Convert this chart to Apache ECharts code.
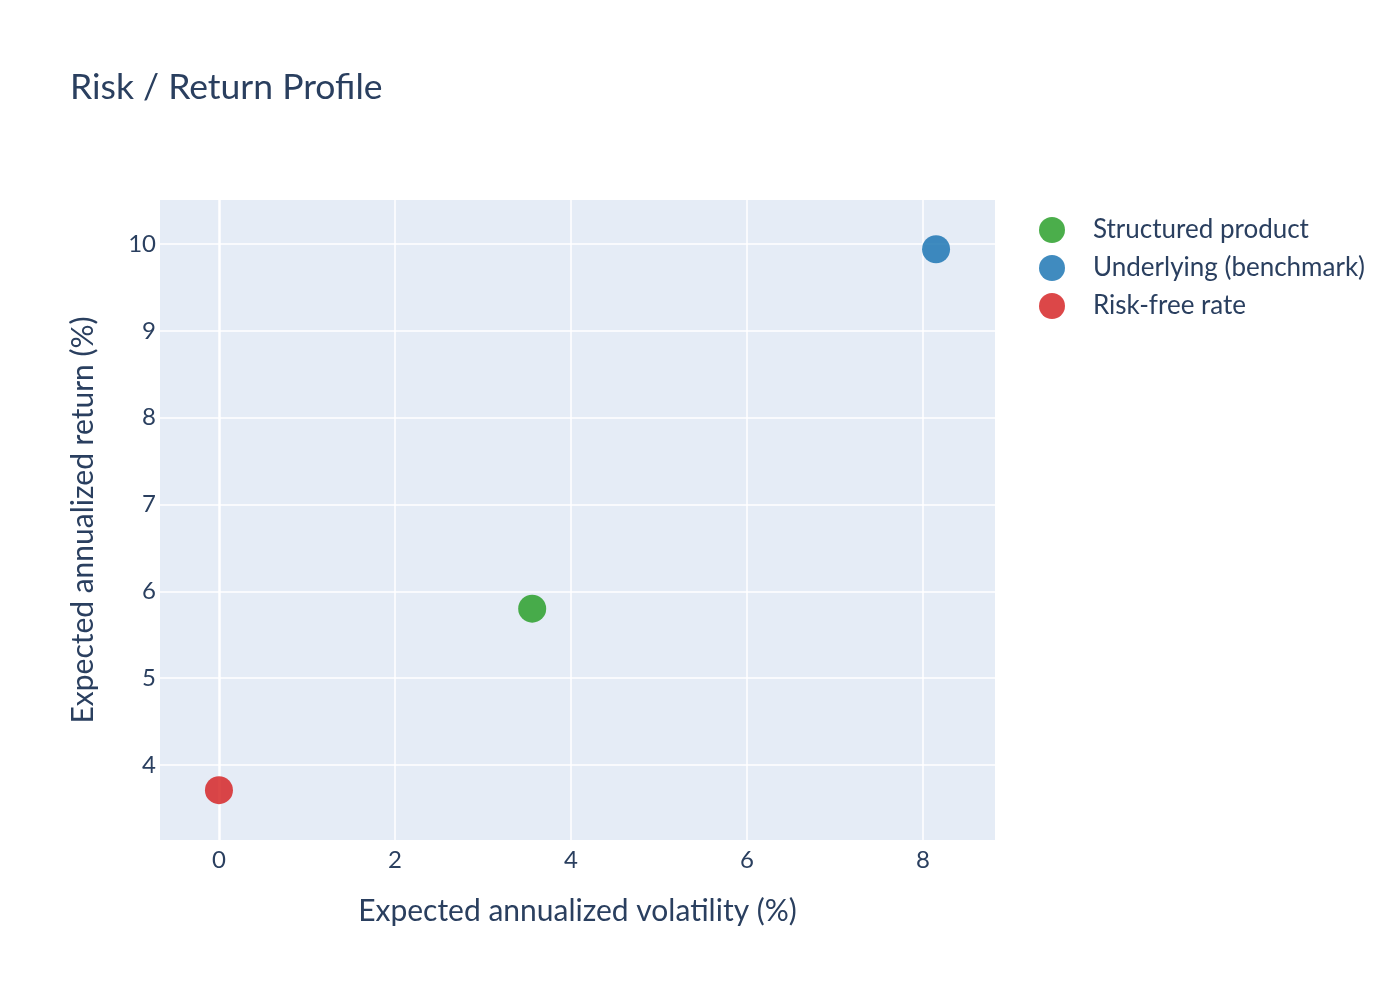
<!DOCTYPE html>
<html>
<head>
<meta charset="utf-8">
<title>Risk / Return Profile</title>
<script src="https://cdn.jsdelivr.net/npm/echarts@6/dist/echarts.min.js"></script>
<style>
  html, body { margin: 0; padding: 0; background: #fff; }
  #chart { width: 1400px; height: 1000px; }
</style>
</head>
<body>
<div id="chart"></div>
<script>
// values
const seriesNames = ["Structured product", "Underlying (benchmark)", "Risk-free rate"];
const seriesColors = ["#2ca02c", "#1f77b4", "#d62728"];
const volatility = [3.56, 8.15, 0.0];
const expReturn = [5.80, 9.94, 3.71];

// axis ranges and tick positions
const xRange = [-0.67, 8.82];
const yRange = [3.136, 10.507];
const xTicks = [0, 2, 4, 6, 8];
const yTicks = [4, 5, 6, 7, 8, 9, 10];

const textColor = "#2a3f5f";
const fontFamily = "Lato, 'Noto Sans', sans-serif";

const chart = echarts.init(document.getElementById("chart"));

const gridLine = { color: "#fff", width: 1.5, type: "solid" };

// gridlines drawn as mark lines so they sit on the round tick values,
// x = 0 gets the thicker plotly-style zero line
const series = [{
    name: "grid",
    type: "scatter",
    data: [],
    silent: true,
    z: 0,
    markLine: {
        silent: true,
        symbol: "none",
        label: { show: false },
        lineStyle: gridLine,
        animation: false,
        z: 0,
        data: [
            ...xTicks.map(v => ({ xAxis: v, lineStyle: v === 0 ? { width: 2.5 } : {} })),
            ...yTicks.map(v => ({ yAxis: v }))
        ]
    }
}];

seriesNames.forEach((name, i) => series.push({
    name,
    type: "scatter",
    symbol: "circle",
    symbolSize: 28,
    itemStyle: { color: seriesColors[i], opacity: 0.85 },
    data: [[volatility[i], expReturn[i]]],
    z: 5
}));

chart.setOption({
    animation: false,
    textStyle: { fontFamily, color: textColor },
    title: {
        text: "Risk / Return Profile",
        left: 65,
        top: 65,
        textStyle: { fontFamily, fontSize: 35.5, fontWeight: "normal", color: textColor }
    },
    legend: {
        orient: "vertical",
        left: 1034,
        top: 212,
        icon: "circle",
        itemWidth: 26,
        itemHeight: 26,
        itemGap: 12,
        itemStyle: { opacity: 0.85 },
        textStyle: { fontFamily, fontSize: 26, color: textColor, padding: [0, 0, 0, 23] },
        data: seriesNames
    },
    grid: {
        left: 160,
        right: 405,
        top: 200,
        bottom: 160,
        show: true,
        backgroundColor: "#E5ECF6",
        borderWidth: 0
    },
    xAxis: {
        type: "value",
        min: xRange[0],
        max: xRange[1],
        name: "Expected annualized volatility (%)",
        nameLocation: "middle",
        nameGap: 56,
        nameTextStyle: { fontFamily, fontSize: 30, color: textColor },
        axisLine: { show: false },
        axisTick: { show: false },
        axisLabel: { customValues: xTicks, margin: 8, fontSize: 24, color: textColor },
        splitLine: { show: false }
    },
    yAxis: {
        type: "value",
        min: yRange[0],
        max: yRange[1],
        name: "Expected annualized return (%)",
        nameLocation: "middle",
        nameGap: 62,
        nameTextStyle: { fontFamily, fontSize: 30, color: textColor },
        axisLine: { show: false },
        axisTick: { show: false },
        axisLabel: { customValues: yTicks, margin: 4, fontSize: 24, color: textColor },
        splitLine: { show: false }
    },
    series
});
</script>
</body>
</html>
